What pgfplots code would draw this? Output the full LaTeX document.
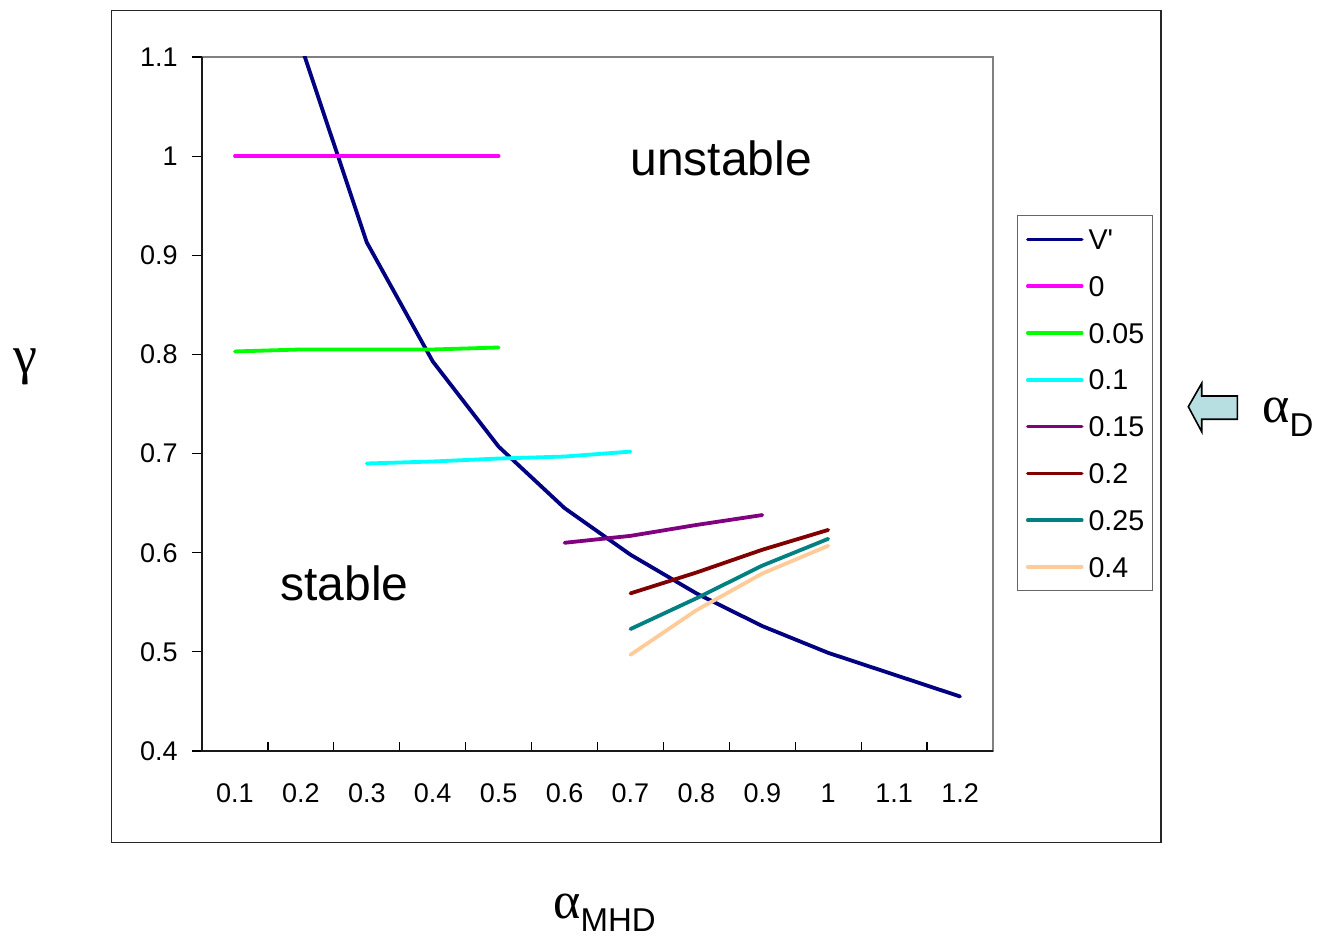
\documentclass[border=0pt]{standalone}
\usepackage{fontspec}
\setmainfont{Liberation Sans}
\newfontfamily\greekfont{Liberation Serif}
\usepackage{pgfplots}
\pgfplotsset{compat=1.18}
\definecolor{cNavy}{RGB}{0,0,128}
\definecolor{cMag}{RGB}{255,0,255}
\definecolor{cGreen}{RGB}{0,255,0}
\definecolor{cCyan}{RGB}{0,255,255}
\definecolor{cPurple}{RGB}{128,0,128}
\definecolor{cDRed}{RGB}{128,0,0}
\definecolor{cTeal}{RGB}{0,128,128}
\definecolor{cPeach}{RGB}{255,204,153}
\definecolor{cArrow}{RGB}{183,222,225}
\begin{document}
\begin{tikzpicture}
\useasboundingbox (0,0) rectangle (658.5pt,469pt);
\draw[line width=0.7pt, black!85] (55.75pt,47.75pt) rectangle (580.5pt,463.75pt);
\begin{axis}[
  at={(101pt,93.5pt)}, anchor=south west,
  scale only axis, width=395.5pt, height=347pt,
  xmin=0.5, xmax=12.5, ymin=0.4, ymax=1.1,
  axis line style={draw=none},
  axis background/.style={draw=black!50, line width=0.9pt},
  after end axis/.code={\draw[black!90, line width=0.8pt] (rel axis cs:0,1) -- (rel axis cs:0,0) -- (rel axis cs:1,0);},
  tick align=outside, major tick length=5pt, minor tick length=4.6pt,
  xtick pos=bottom, ytick pos=left,
  xtick={1,...,12},
  xticklabels={0.1,0.2,0.3,0.4,0.5,0.6,0.7,0.8,0.9,1,1.1,1.2},
  every major x tick/.append style={draw=none},
  minor xtick={1.5,2.5,...,11.5},
  every minor x tick/.append style={yshift=4.6pt, black, line width=0.6pt},
  ytick={0.4,0.5,...,1.1},
  yticklabels={0.4,0.5,0.6,0.7,0.8,0.9,1,1.1},
  every major y tick/.append style={black, line width=0.6pt},
  tick label style={font=\fontsize{13.5}{16}\selectfont, inner sep=0pt},
  xticklabel style={anchor=base, yshift=-20.5pt},
  yticklabel style={anchor=east, xshift=-7pt},
  no markers,
  every axis plot/.append style={line width=1.9pt, line cap=round, line join=round},
  legend style={at={(axis description cs:1.0303,0.7723)}, anchor=north west,
    draw=black!60, line width=0.6pt, inner xsep=4.2pt, inner ysep=0.15pt,
    column sep=2.5pt, row sep=0pt, font=\fontsize{14.3}{17}\selectfont,
    nodes={inner sep=0pt, text height=16.8pt, text depth=6.6pt}},
  legend cell align=left,
  legend image code/.code={\draw[#1, line width=1.8pt, line cap=round] (0pt,0pt) -- (27pt,0pt);},
]
\addplot[cNavy] coordinates {(2,1.112) (3,0.913) (4,0.793) (5,0.707) (6,0.645) (7,0.598) (8,0.559) (9,0.526) (10,0.499) (11,0.477) (12,0.455)};
\addlegendentry{V\textquotesingle}
\addplot[cMag] coordinates {(1,1.0) (2,1.0) (3,1.0) (4,1.0) (5,1.0)};
\addlegendentry{0}
\addplot[cGreen] coordinates {(1,0.803) (2,0.805) (3,0.805) (4,0.805) (5,0.807)};
\addlegendentry{0.05}
\addplot[cCyan] coordinates {(3,0.690) (4,0.692) (5,0.695) (6,0.697) (7,0.702)};
\addlegendentry{0.1}
\addplot[cPurple] coordinates {(6,0.610) (7,0.617) (8,0.628) (9,0.638)};
\addlegendentry{0.15}
\addplot[cDRed] coordinates {(7,0.559) (8,0.580) (9,0.603) (10,0.623)};
\addlegendentry{0.2}
\addplot[cTeal] coordinates {(7,0.523) (8,0.554) (9,0.587) (10,0.614)};
\addlegendentry{0.25}
\addplot[cPeach] coordinates {(7,0.497) (8,0.542) (9,0.579) (10,0.607)};
\addlegendentry{0.4}
\end{axis}
\node[anchor=base west, inner sep=0pt, font=\fontsize{24}{28}\selectfont] at (315pt,381pt) {unstable};
\node[anchor=base west, inner sep=0pt, font=\fontsize{24}{28}\selectfont] at (140pt,168.5pt) {stable};
\node[anchor=base, inner sep=0pt] at (12.5pt,282pt) {\greekfont\fontsize{27}{30}\selectfont γ};
\node[anchor=base west, inner sep=0pt] at (276.5pt,10pt) {{\greekfont\fontsize{26}{30}\selectfont α}\raisebox{-6.5pt}{\fontsize{16.5}{19}\selectfont MHD}};
\draw[fill=cArrow, line width=0.8pt, line join=miter] (594.15pt,265.65pt) -- (600.85pt,277.35pt) -- (600.85pt,271pt) -- (618.65pt,271pt) -- (618.65pt,259.35pt) -- (600.85pt,259.35pt) -- (600.85pt,253.15pt) -- cycle;
\node[anchor=base west, inner sep=0pt] at (631pt,257.5pt) {{\greekfont\fontsize{26}{30}\selectfont α}\raisebox{-7pt}{\fontsize{16.5}{19}\selectfont D}};
\end{tikzpicture}
\end{document}
